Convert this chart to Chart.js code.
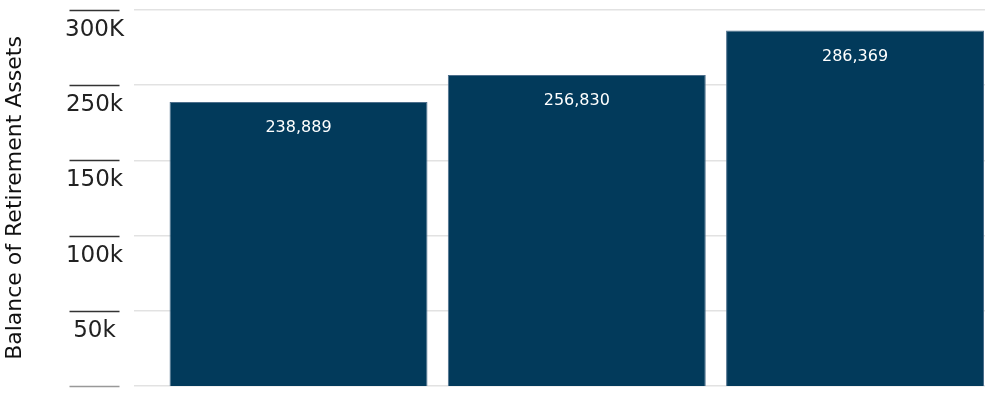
<!DOCTYPE html>
<html>
<head>
<meta charset="utf-8">
<script src="https://cdn.jsdelivr.net/npm/chart.js@4/dist/chart.umd.min.js"></script>
<style>
    html, body { margin: 0; padding: 0; background: #fff; }
    #wrap { width: 990px; height: 395px; }
</style>
</head>
<body>
<div id="wrap"><canvas id="chart" width="990" height="395"></canvas></div>
<script>
'use strict';

// значения столбцов (слева направо)
const barValues = [238889, 256830, 286369];
// подписи делений оси Y, снизу вверх (как на исходнике)
const yTickLabels = ['', '50k', '100k', '150k', '250k', '300K'];
const yTitle = 'Balance of Retirement Assets';

const barColor = '#023a5b';
const labelFont = '"DejaVu Sans", sans-serif';

// короткие черточки над подписями оси Y
const tickLinesPlugin = {
    id: 'tickLines',
    afterDraw(chart) {
        const scale = chart.scales.y;
        const ctx = chart.ctx;
        ctx.save();
        ctx.font = '23px ' + labelFont;
        let widest = 0;
        for (const t of yTickLabels) widest = Math.max(widest, ctx.measureText(t).width);
        const cx = scale.right - 26 - 10 - widest / 2;
        ctx.lineWidth = 1.5;
        scale.ticks.forEach((tick, i) => {
            const y = Math.round(scale.getPixelForValue(tick.value)) + 0.5;
            ctx.strokeStyle = i === 0 ? '#999' : '#333';
            ctx.beginPath();
            ctx.moveTo(cx - 25, y);
            ctx.lineTo(cx + 25, y);
            ctx.stroke();
        });
        ctx.restore();
    },
};

// белые подписи значений внутри столбцов
const barLabelsPlugin = {
    id: 'barLabels',
    afterDatasetsDraw(chart) {
        const ctx = chart.ctx;
        const meta = chart.getDatasetMeta(0);
        ctx.save();
        ctx.font = '16px ' + labelFont;
        ctx.fillStyle = '#fff';
        ctx.textAlign = 'center';
        ctx.textBaseline = 'middle';
        meta.data.forEach((bar, i) => {
            ctx.fillText(barValues[i].toLocaleString('en-US'), bar.x, bar.y + 26);
        });
        ctx.restore();
    },
};

const ctx = document.getElementById('chart').getContext('2d');
new Chart(ctx, {
    type: 'bar',
    data: {
        datasets: [{
            data: barValues.map((v, i) => ({ x: i, y: v })),
            backgroundColor: barColor,
            borderColor: '#4d6f8c',
            borderWidth: 1,
            barPercentage: 0.927,
            categoryPercentage: 1,
        }],
    },
    options: {
        responsive: false,
        animation: false,
        layout: { padding: { top: 10, bottom: 9, left: 0, right: 5 } },
        plugins: {
            legend: { display: false },
            tooltip: { enabled: false },
        },
        scales: {
            x: {
                type: 'linear',
                display: false,
                offset: false,
                min: -0.4978,
                max: 2.467,
                afterBuildTicks: (s) => { s.ticks = [0, 1, 2].map((v) => ({ value: v })); },
            },
            y: {
                min: 50000,
                max: 300000,
                border: { display: false },
                grid: { color: '#e2e2e2', lineWidth: 1.5, tickLength: 26 },
                ticks: {
                    stepSize: 50000,
                    padding: 10,
                    crossAlign: 'center',
                    labelOffset: 20,
                    color: '#222',
                    font: { family: labelFont, size: 23 },
                    callback: (value, index) => yTickLabels[index],
                },
                title: {
                    display: true,
                    text: yTitle,
                    color: '#111',
                    font: { family: labelFont, size: 22 },
                    padding: { top: 2, bottom: 0 },
                },
                afterFit: (scale) => {
                    scale.width = 160;
                    scale.paddingTop = 0;
                    scale.paddingBottom = 0;
                },
            },
        },
    },
    plugins: [tickLinesPlugin, barLabelsPlugin],
});
</script>
</body>
</html>
